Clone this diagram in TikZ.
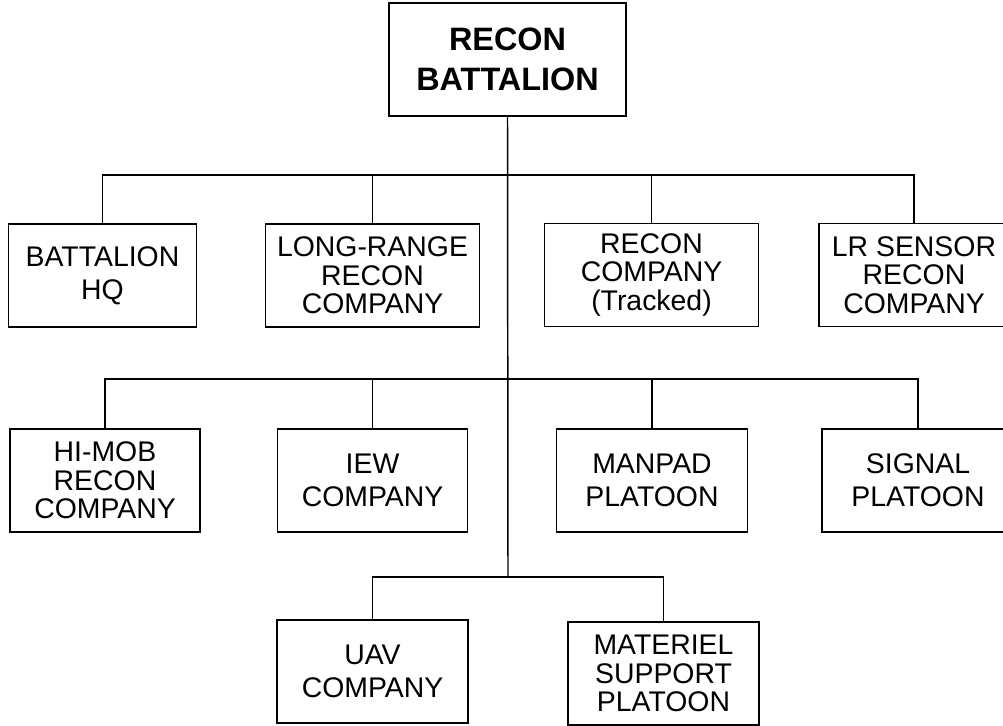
\documentclass[tikz,border=0pt]{standalone}
\usepackage{fontspec}
\setmainfont{Liberation Sans}
\begin{document}
\begin{tikzpicture}[x=0.75pt,y=-0.75pt,
  unit/.style={draw=black,line width=1.1pt,fill=white,inner sep=0pt,align=center,
    minimum height=77.25pt,font=\fontsize{21.3}{21.4}\selectfont},
  twoline/.style={font=\fontsize{21.3}{24.5}\selectfont},
  head/.style={draw=black,line width=1.1pt,fill=white,inner sep=0pt,align=center,
    minimum width=177.75pt,minimum height=84.75pt,font=\fontsize{24.3}{29.5}\selectfont\bfseries},
  link/.style={draw=black,line width=1.1pt}]
\useasboundingbox (0,0) rectangle (1003,725);
% top
\node[head] (top) at (507.5,59.5) {RECON\\BATTALION};
% row 1
\node[unit,twoline,minimum width=141pt] (bhq) at (102.5,275.5) {BATTALION\\HQ};
\node[unit,minimum width=160.5pt] (lrr) at (372.5,275.5) {LONG-RANGE\\RECON\\COMPANY};
\node[unit,minimum width=160.5pt] (rct) at (651.5,275) {RECON\\COMPANY\\(Tracked)};
\node[unit,minimum width=142.5pt] (lrs) at (914,275) {LR SENSOR\\RECON\\COMPANY};
% row 2
\node[unit,minimum width=142.5pt] (hmb) at (105,480.5) {HI-MOB\\RECON\\COMPANY};
\node[unit,twoline,minimum width=142.5pt] (iew) at (372.5,480.5) {IEW\\COMPANY};
\node[unit,twoline,minimum width=143.25pt] (man) at (652,480.5) {MANPAD\\PLATOON};
\node[unit,twoline,minimum width=144pt] (sig) at (918,480.5) {SIGNAL\\PLATOON};
% row 3
\node[unit,twoline,minimum width=143.25pt] (uav) at (372.5,671.5) {UAV\\COMPANY};
\node[unit,minimum width=143.25pt] (mat) at (663.5,673.5) {MATERIEL\\SUPPORT\\PLATOON};
% junctions
\coordinate (j1) at (508,175);
\coordinate (j2) at (508,379);
\coordinate (j3) at (508,577);
% connectors
\draw[link] (top.south) -- (j3);
\draw[link] (bhq.north) |- (j1) -| (lrs.north);
\draw[link] (lrr.north) -- (lrr.north |- j1);
\draw[link] (rct.north) -- (rct.north |- j1);
\draw[link] (hmb.north) |- (j2) -| (sig.north);
\draw[link] (iew.north) -- (iew.north |- j2);
\draw[link] (man.north) -- (man.north |- j2);
\draw[link] (uav.north) |- (j3) -| (mat.north);
\end{tikzpicture}
\end{document}
